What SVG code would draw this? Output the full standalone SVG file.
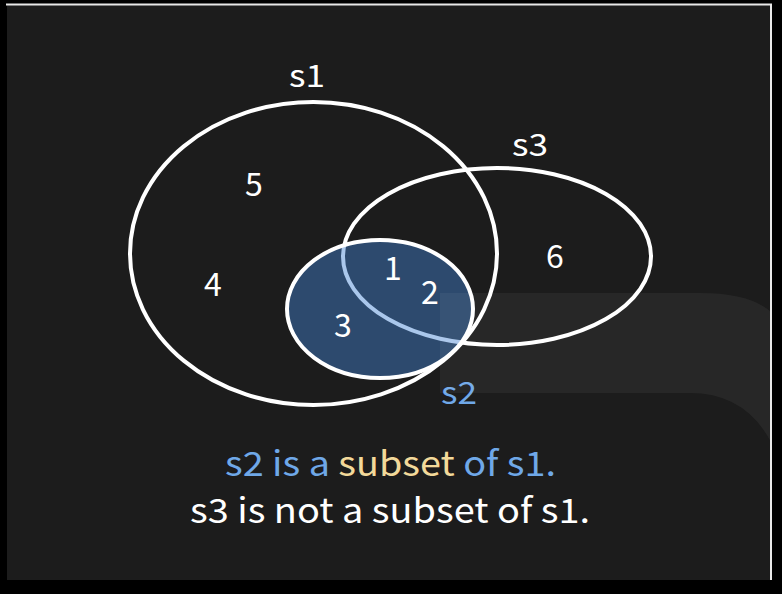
<svg xmlns="http://www.w3.org/2000/svg" width="782" height="594" viewBox="0 0 782 594">
<style>
.set{fill:none;stroke:#ffffff;stroke-width:4}
.t{font-family:"Noto Sans CJK SC","Source Sans Pro","Noto Sans",sans-serif;fill:#ffffff;text-anchor:middle}
.num{font-size:32px}
.lbl{font-size:31px}
.cap{font-size:34px}
.blue{fill:#6fa8e8}
.gold{fill:#f3d99a}
</style>
<rect x="0" y="0" width="782" height="594" fill="#000000"/>
<rect x="7" y="5" width="764" height="575" fill="#1c1c1c"/>
<line x1="6" y1="4.5" x2="772" y2="4.5" stroke="#e8e8e8" stroke-width="2"/>
<line x1="771" y1="4" x2="771" y2="580" stroke="#e8e8e8" stroke-width="2"/>
<g id="s1">
<ellipse class="set" cx="313.5" cy="253.5" rx="183.5" ry="151.5"/>
<text class="t lbl" x="307" y="87" textLength="36" lengthAdjust="spacingAndGlyphs">s1</text>
</g>
<g id="s3">
<ellipse class="set" cx="497" cy="256.5" rx="154" ry="88.5"/>
<text class="t lbl" x="530" y="156" textLength="36" lengthAdjust="spacingAndGlyphs">s3</text>
</g>
<g id="s2">
<ellipse cx="380" cy="309" rx="93" ry="69" fill="#4282d2" fill-opacity="0.45"/>
<ellipse class="set" cx="380" cy="309" rx="93" ry="69"/>
<text class="t lbl blue" x="459" y="404" textLength="36" lengthAdjust="spacingAndGlyphs">s2</text>
</g>
<path d="M440 293 H700 Q750 293 771 312 V442 Q745 393 690 393 H440 Z" fill="#ffffff" fill-opacity="0.05"/>
<g id="elements">
<text class="t num" x="254" y="196">5</text>
<text class="t num" x="213" y="296">4</text>
<text class="t num" x="393" y="280">1</text>
<text class="t num" x="430" y="304">2</text>
<text class="t num" x="343" y="337">3</text>
<text class="t num" x="555" y="268">6</text>
</g>
<g id="caption">
<text class="t cap blue" x="390.5" y="476" textLength="331" lengthAdjust="spacingAndGlyphs">s2 is a <tspan class="gold">subset</tspan> of s1.</text>
<text class="t cap" x="390" y="523" textLength="400" lengthAdjust="spacingAndGlyphs">s3 is not a subset of s1.</text>
</g>
</svg>
